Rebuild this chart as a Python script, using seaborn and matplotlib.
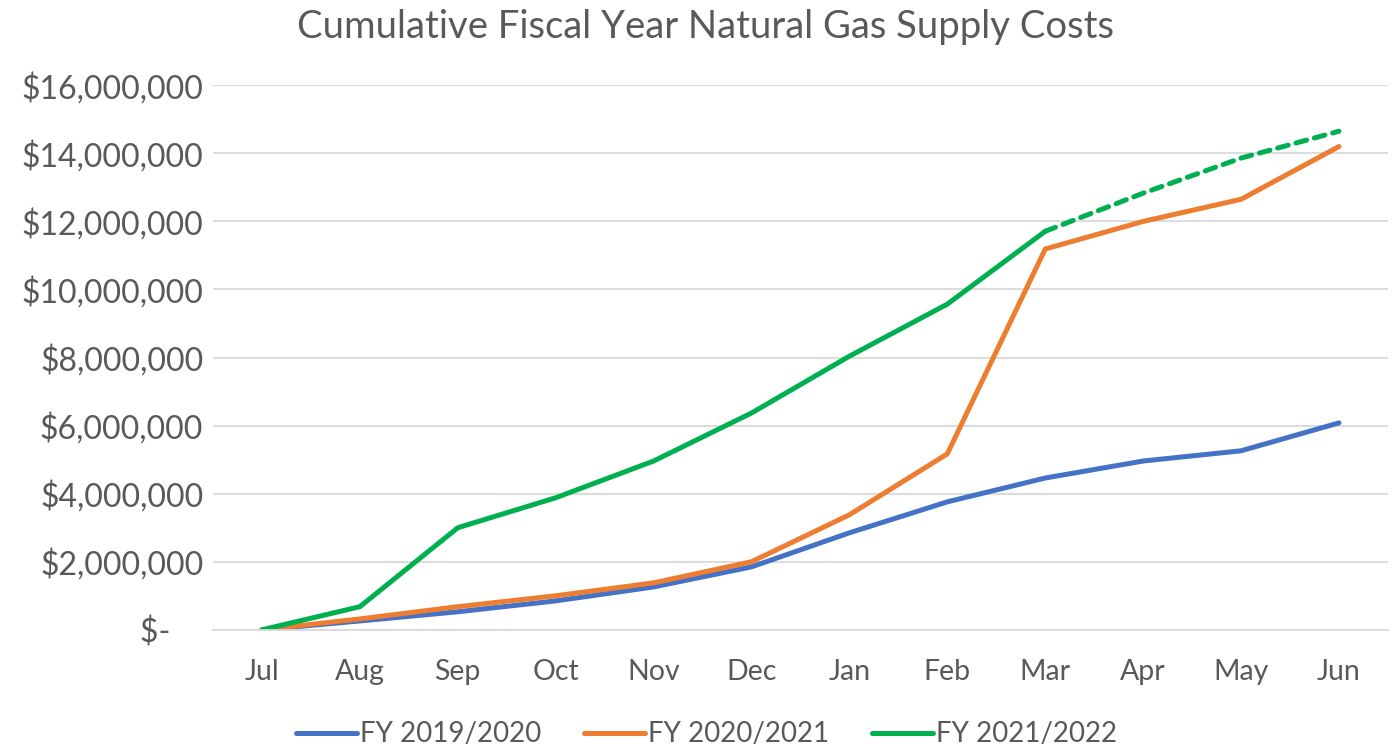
import numpy as np
import pandas as pd
import matplotlib
matplotlib.use("Agg")
import matplotlib.pyplot as plt
import seaborn as sns
from matplotlib.ticker import FuncFormatter, MultipleLocator

months = ["Jul", "Aug", "Sep", "Oct", "Nov", "Dec", "Jan", "Feb", "Mar", "Apr", "May", "Jun"]
fy_2019_2020 = [0, 260000, 530000, 850000, 1260000, 1850000, 2850000, 3760000, 4460000, 4960000, 5260000, 6080000]
fy_2020_2021 = [0, 320000, 680000, 1000000, 1380000, 2000000, 3380000, 5170000, 11190000, 12000000, 12650000, 14200000]
fy_2021_2022_actual = [0, 680000, 3000000, 3880000, 4960000, 6370000, 8040000, 9570000, 11710000, None, None, None]
fy_2021_2022_projected = [None, None, None, None, None, None, None, None, 11710000, 12830000, 13860000, 14650000]

series_names = ["FY 2019/2020", "FY 2020/2021", "FY 2021/2022"]
colors = ["#4472C4", "#ED7D31", "#00B050"]

sns.set_theme(style="white")
plt.rcParams["font.family"] = ["Lato", "DejaVu Sans"]
text_color = "#595959"

fig = plt.figure(figsize=(13.97, 7.48), dpi=100)
ax = fig.add_axes([0.1525, 0.158, 0.841, 0.728])

x = np.arange(len(months))
df = pd.DataFrame({
    "x": x,
    "a": fy_2019_2020,
    "b": fy_2020_2021,
    "c": pd.array(fy_2021_2022_actual, dtype="Float64"),
    "d": pd.array(fy_2021_2022_projected, dtype="Float64"),
}).astype(float)

lw = 3.6
sns.lineplot(data=df, x="x", y="a", ax=ax, color=colors[0], linewidth=lw, label=series_names[0], solid_capstyle="round")
sns.lineplot(data=df, x="x", y="b", ax=ax, color=colors[1], linewidth=lw, label=series_names[1], solid_capstyle="round")
sns.lineplot(data=df, x="x", y="c", ax=ax, color=colors[2], linewidth=lw, label=series_names[2], solid_capstyle="round")
sns.lineplot(data=df, x="x", y="d", ax=ax, color=colors[2], linewidth=lw, linestyle=(0, (2.2, 1.6)),
             dash_capstyle="round", legend=False)

ax.set_xlim(-0.5, len(months) - 0.5)
ax.set_ylim(0, 16000000)
ax.yaxis.set_major_locator(MultipleLocator(2000000))
ax.set_xticks(x)
ax.set_xticklabels(months)

def fmt(v, pos):
    if abs(v) < 1:
        return "$-    "
    return "${:,.0f}".format(v)

ax.yaxis.set_major_formatter(FuncFormatter(fmt))
ax.grid(axis="y", color="#D9D9D9", linewidth=1.3)
ax.grid(axis="x", visible=False)
for s in ["top", "right", "left"]:
    ax.spines[s].set_visible(False)
ax.spines["bottom"].set_color("#D9D9D9")
ax.spines["bottom"].set_linewidth(1.3)
ax.tick_params(axis="both", length=0, colors=text_color)
ax.tick_params(axis="x", pad=21, labelsize=20.5)
ax.tick_params(axis="y", pad=7, labelsize=23)
ax.set_xlabel("")
ax.set_ylabel("")

fig.suptitle("Cumulative Fiscal Year Natural Gas Supply Costs", x=0.505, y=0.988,
             fontsize=27.5, color=text_color)

handles, labels = ax.get_legend_handles_labels()
ax.legend(handles, labels, loc="lower center", bbox_to_anchor=(0.42, -0.262), ncol=3,
          frameon=False, fontsize=20, labelcolor=text_color, handlelength=2.2,
          handletextpad=0.1, columnspacing=1.55)

fig.savefig("out.png", dpi=100)
